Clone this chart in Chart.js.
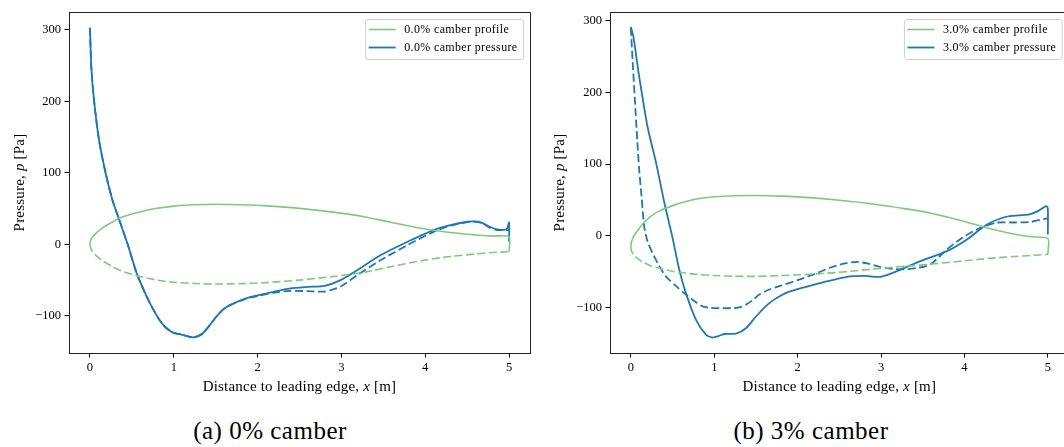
<!DOCTYPE html>
<html>
<head>
<meta charset="utf-8">
<script src="https://cdn.jsdelivr.net/npm/chart.js@4.4.1/dist/chart.umd.min.js"></script>
<style>
  html, body { margin: 0; padding: 0; background: #fff; overflow: hidden; }
  body { width: 1064px; height: 447px; position: relative; }
  canvas { position: absolute; top: 0; }
  #chartA { left: 0; }
  #chartB { left: 530px; }
  .caption {
    position: absolute; top: 416px; width: 400px; text-align: center;
    font-family: "Liberation Serif", serif; font-size: 25px; letter-spacing: 0.5px;
    color: #000; line-height: 30px;
  }
</style>
</head>
<body>
<canvas id="chartA" width="540" height="400"></canvas>
<canvas id="chartB" width="545" height="400"></canvas>
<div class="caption" style="left:70px">(a) 0% camber</div>
<div class="caption" style="left:611px">(b) 3% camber</div>
<script>
// ---- axis ticks ----
const xTickValues = [0, 1, 2, 3, 4, 5];
const xTickLabels = ['0', '1', '2', '3', '4', '5'];
const yTickValues = [-100, 0, 100, 200, 300];
const yTickLabels = ['\u2212100', '0', '100', '200', '300'];

// ---- airfoil profile, stations along the chord [m] ----
const profileX = [0, 0.004, 0.015, 0.04, 0.08, 0.15, 0.25, 0.35, 0.5, 0.65, 0.8, 1.0, 1.25, 1.5, 1.8, 2.1, 2.5, 2.9, 3.3, 3.6, 4.0, 4.3, 4.6, 4.8, 5.0];

// 0.0 % camber profile (upper surface closes down to the lower trailing edge)
const upperProfile0 = [0, 3.5, 7, 11.5, 16.5, 23, 30, 36.5, 42.5, 47, 50.5, 53.5, 55.3, 56, 55.3, 53.8, 50.3, 45, 38, 30.5, 21.5, 16.5, 13, 11.5, 10.7];
const lowerProfile0 = [0, -3.5, -7, -11.5, -16.5, -23, -30, -36, -42, -46.5, -50, -53, -54.8, -55.5, -55, -53.5, -50, -45, -38.5, -31, -22, -17, -13.5, -11.5, -10.3];

// 3.0 % camber profile
const upperProfile3 = [-15, -10.5, -6, 0.5, 7, 17.5, 28, 35, 42, 47.5, 51.5, 54.3, 55.8, 56.2, 55.3, 53.5, 49.5, 44.3, 37.5, 31.5, 20, 10, 2, -1.5, -3.8];
const lowerProfile3 = [-15, -19.5, -23, -27.5, -31.5, -37, -42.5, -45.5, -49.5, -52, -54, -55.5, -56.5, -56.7, -55.5, -54, -51, -46.5, -42.5, -39.5, -35, -31.5, -29, -27.5, -26];

// ---- surface pressure, 0.0 % camber ----
const pressureX0 = [0, 0.016, 0.048, 0.108, 0.188, 0.268, 0.35, 0.45, 0.556, 0.68, 0.75, 0.83, 0.9, 0.99, 1.1, 1.22, 1.29, 1.35, 1.43, 1.51, 1.59, 1.67, 1.87, 2.03, 2.2, 2.39, 2.6, 2.8, 2.99, 3.19, 3.47, 3.79, 4.1, 4.3, 4.5, 4.6, 4.68, 4.76, 4.86, 4.97, 5.0, 5.0];
const upperPressure0 = [303, 248, 202, 146, 99, 62, 34, 0, -40, -74, -90, -106, -116, -123.5, -126.5, -130, -128.5, -124, -113, -101, -91, -85, -75.3, -70.7, -66, -61.6, -59.5, -58, -50, -36, -15, 3.7, 20, 27, 31.6, 32, 30, 25, 21, 21, 30.7, 3.6];
const lowerPressure0 = [303, 248, 202, 146, 99, 62, 34, 0, -40, -74, -90, -106, -116, -123.5, -126.5, -130, -128.5, -124, -113, -101, -91, -85, -75.8, -71.5, -67.5, -65, -65.5, -66, -59, -43, -22, -1, 17.5, 26, 31, 31.5, 29.5, 24, 20, 20, 20, 20];

// ---- surface pressure, 3.0 % camber ----
const pressureX3 = [0, 0.03, 0.1, 0.2, 0.3, 0.4, 0.5, 0.58, 0.66, 0.78, 0.9, 0.98, 1.05, 1.12, 1.26, 1.38, 1.5, 1.66, 1.79, 1.9, 2.2, 2.59, 2.8, 2.99, 3.19, 3.47, 3.79, 4.03, 4.27, 4.5, 4.65, 4.78, 4.88, 4.98, 5.0, 5.0];
const upperPressure3 = [291, 278, 222, 152, 103, 47, -3, -47, -80, -117, -138, -142, -140, -137, -136.5, -129, -112.6, -94, -84, -78, -68, -57.3, -56, -57.3, -49.4, -35.4, -21.5, -5.2, 15.8, 26.5, 28.5, 29.7, 34.4, 41.4, 38, 1.8];
const lowerPressureX3 = [0, 0.02, 0.048, 0.076, 0.1, 0.128, 0.16, 0.2, 0.26, 0.34, 0.42, 0.54, 0.66, 0.76, 0.86, 0.96, 1.06, 1.22, 1.3, 1.38, 1.46, 1.54, 1.66, 1.79, 2.0, 2.19, 2.38, 2.55, 2.71, 2.85, 2.99, 3.13, 3.27, 3.43, 3.59, 3.79, 3.97, 4.15, 4.38, 4.6, 4.78, 4.98, 5.0];
const lowerPressure3 = [290, 246, 190, 134.5, 92, 55, 13, -8, -24, -42, -56.7, -70, -82, -91, -98.6, -100.5, -101, -101, -100, -96, -90, -82, -75, -70, -62, -54, -45, -39, -36.4, -39, -43.4, -46, -47, -45, -40, -19, -3, 8.8, 18.2, 18.5, 19, 24, 24];

// ---- styling ----
const GREEN = '#7fc97f';
const BLUE = '#1f77b4';
const FONT = '"Liberation Serif", "Times New Roman", serif';
const DASH = [8, 3.5];

function points(xs, ys) {
  return xs.map((x, i) => ({ x: x, y: ys[i] }));
}

// Draws the top and right spines so the axes form a closed box
const frame = {
  id: 'frame',
  afterDatasetsDraw(chart) {
    const { ctx, chartArea: a } = chart;
    ctx.save();
    ctx.strokeStyle = '#222';
    ctx.lineWidth = 1;
    ctx.beginPath();
    ctx.moveTo(a.left, a.top + 0.5);
    ctx.lineTo(a.right + 0.5, a.top + 0.5);
    ctx.lineTo(a.right + 0.5, a.bottom);
    ctx.stroke();
    ctx.restore();
  }
};

// Axis titles with italic symbols
function drawRich(ctx, parts, size, spacing) {
  ctx.letterSpacing = spacing + 'px';
  let total = 0;
  const widths = parts.map(p => {
    ctx.font = (p.italic ? 'italic ' : '') + size + 'px ' + FONT;
    const w = ctx.measureText(p.text).width;
    total += w;
    return w;
  });
  let x = -total / 2;
  parts.forEach((p, i) => {
    ctx.font = (p.italic ? 'italic ' : '') + size + 'px ' + FONT;
    ctx.fillText(p.text, x, 0);
    x += widths[i];
  });
}

const axisTitles = {
  id: 'axisTitles',
  afterDraw(chart, args, opts) {
    const { ctx, chartArea: a } = chart;
    ctx.save();
    ctx.fillStyle = '#000';
    ctx.textAlign = 'left';
    ctx.textBaseline = 'middle';
    ctx.translate((a.left + a.right) / 2, a.bottom + opts.xOffset);
    drawRich(ctx, opts.xTitle, opts.size, opts.spacing);
    ctx.restore();

    ctx.save();
    ctx.fillStyle = '#000';
    ctx.textAlign = 'left';
    ctx.textBaseline = 'middle';
    ctx.translate(a.left - opts.yOffset, (a.top + a.bottom) / 2);
    ctx.rotate(-Math.PI / 2);
    drawRich(ctx, opts.yTitle, opts.size, opts.spacing);
    ctx.restore();
  }
};

// Framed legend in the upper right corner of the plot area
const boxLegend = {
  id: 'boxLegend',
  afterDraw(chart, args, opts) {
    const { ctx, chartArea: a } = chart;
    const items = chart.data.datasets.filter(d => d.inLegend);
    ctx.save();
    ctx.font = opts.size + 'px ' + FONT;
    ctx.letterSpacing = opts.spacing + 'px';
    const textW = Math.max(...items.map(d => ctx.measureText(d.label).width));
    const handle = 27, padL = 3.5, gap = 8.5, padR = 5.5, rowH = 18;
    const w = padL + handle + gap + textW + padR;
    const h = 40;
    const x0 = a.right - opts.inset - w;
    const y0 = a.top + opts.inset;
    ctx.beginPath();
    ctx.roundRect(x0 + 0.5, y0 + 0.5, w, h, 2.5);
    ctx.fillStyle = 'rgba(255,255,255,0.8)';
    ctx.fill();
    ctx.strokeStyle = '#d0d0d0';
    ctx.lineWidth = 1;
    ctx.stroke();
    items.forEach((d, i) => {
      const cy = y0 + 10.5 + i * rowH;
      ctx.beginPath();
      ctx.moveTo(x0 + padL, cy);
      ctx.lineTo(x0 + padL + handle, cy);
      ctx.strokeStyle = d.borderColor;
      ctx.lineWidth = d.borderWidth;
      ctx.stroke();
      ctx.fillStyle = '#000';
      ctx.textBaseline = 'middle';
      ctx.fillText(d.label, x0 + padL + handle + gap, cy + 0.5);
    });
    ctx.restore();
  }
};

function lineSet(label, data, color, width, dashed, inLegend) {
  return {
    label: label,
    data: data,
    borderColor: color,
    borderWidth: width,
    borderDash: dashed ? DASH : [],
    pointRadius: 0,
    fill: false,
    tension: 0.25,
    inLegend: inLegend
  };
}

function makeChart(id, datasets, yMin, yMax, yWidth, padRight, yTitleOffset) {
  const tickFont = { family: FONT, size: 12.5 };
  return new Chart(document.getElementById(id), {
    type: 'line',
    data: { datasets: datasets },
    options: {
      responsive: false,
      animation: false,
      events: [],
      layout: { padding: { top: 12, right: padRight, left: 0, bottom: 0 } },
      plugins: {
        legend: { display: false },
        tooltip: { enabled: false },
        axisTitles: {
          size: 15,
          spacing: 0.2,
          xOffset: 34,
          yOffset: yTitleOffset,
          xTitle: [{ text: 'Distance to leading edge, ' }, { text: 'x', italic: true }, { text: ' [m]' }],
          yTitle: [{ text: 'Pressure, ' }, { text: 'p', italic: true }, { text: ' [Pa]' }]
        },
        boxLegend: { size: 12, spacing: 0.35, inset: 7 }
      },
      scales: {
        x: {
          type: 'linear',
          min: -0.25,
          max: 5.25,
          afterBuildTicks: s => { s.ticks = xTickValues.map(v => ({ value: v })); },
          afterFit: s => { s.height = 47; },
          grid: { drawOnChartArea: false, drawTicks: true, tickLength: 4.5, tickColor: '#000', tickWidth: 1 },
          border: { display: true, color: '#222', width: 1 },
          ticks: {
            font: tickFont, color: '#000', padding: 3, maxRotation: 0, autoSkip: false,
            callback: v => xTickLabels[xTickValues.indexOf(v)]
          }
        },
        y: {
          type: 'linear',
          min: yMin,
          max: yMax,
          afterBuildTicks: s => { s.ticks = yTickValues.map(v => ({ value: v })); },
          afterFit: s => { s.width = yWidth; },
          grid: { drawOnChartArea: false, drawTicks: true, tickLength: 4.5, tickColor: '#000', tickWidth: 1 },
          border: { display: true, color: '#222', width: 1 },
          ticks: {
            font: tickFont, color: '#000', padding: 3.5, autoSkip: false,
            callback: v => yTickLabels[yTickValues.indexOf(v)]
          }
        }
      }
    },
    plugins: [frame, axisTitles, boxLegend]
  });
}

// Trailing edge closing segment from the upper to the lower surface
const upper0Closed = points(profileX, upperProfile0).concat([{ x: 5.0, y: lowerProfile0[lowerProfile0.length - 1] }]);
const upper3Closed = points(profileX, upperProfile3).concat([{ x: 5.0, y: lowerProfile3[lowerProfile3.length - 1] }]);

makeChart('chartA', [
  lineSet('0.0% camber profile', upper0Closed, GREEN, 1.6, false, true),
  lineSet('0.0% camber profile (lower)', points(profileX, lowerProfile0), GREEN, 1.6, true, false),
  lineSet('0.0% camber pressure (lower)', points(pressureX0, lowerPressure0), BLUE, 1.8, true, false),
  lineSet('0.0% camber pressure', points(pressureX0, upperPressure0), BLUE, 1.8, false, true)
], -152, 325, 69, 10, 49);

makeChart('chartB', [
  lineSet('3.0% camber profile', upper3Closed, GREEN, 1.6, false, true),
  lineSet('3.0% camber profile (lower)', points(profileX, lowerProfile3), GREEN, 1.6, true, false),
  lineSet('3.0% camber pressure (lower)', points(lowerPressureX3, lowerPressure3), BLUE, 1.8, true, false),
  lineSet('3.0% camber pressure', points(pressureX3, upperPressure3), BLUE, 1.8, false, true)
], -163.5, 312, 80, 6.3, 50);
</script>
</body>
</html>
